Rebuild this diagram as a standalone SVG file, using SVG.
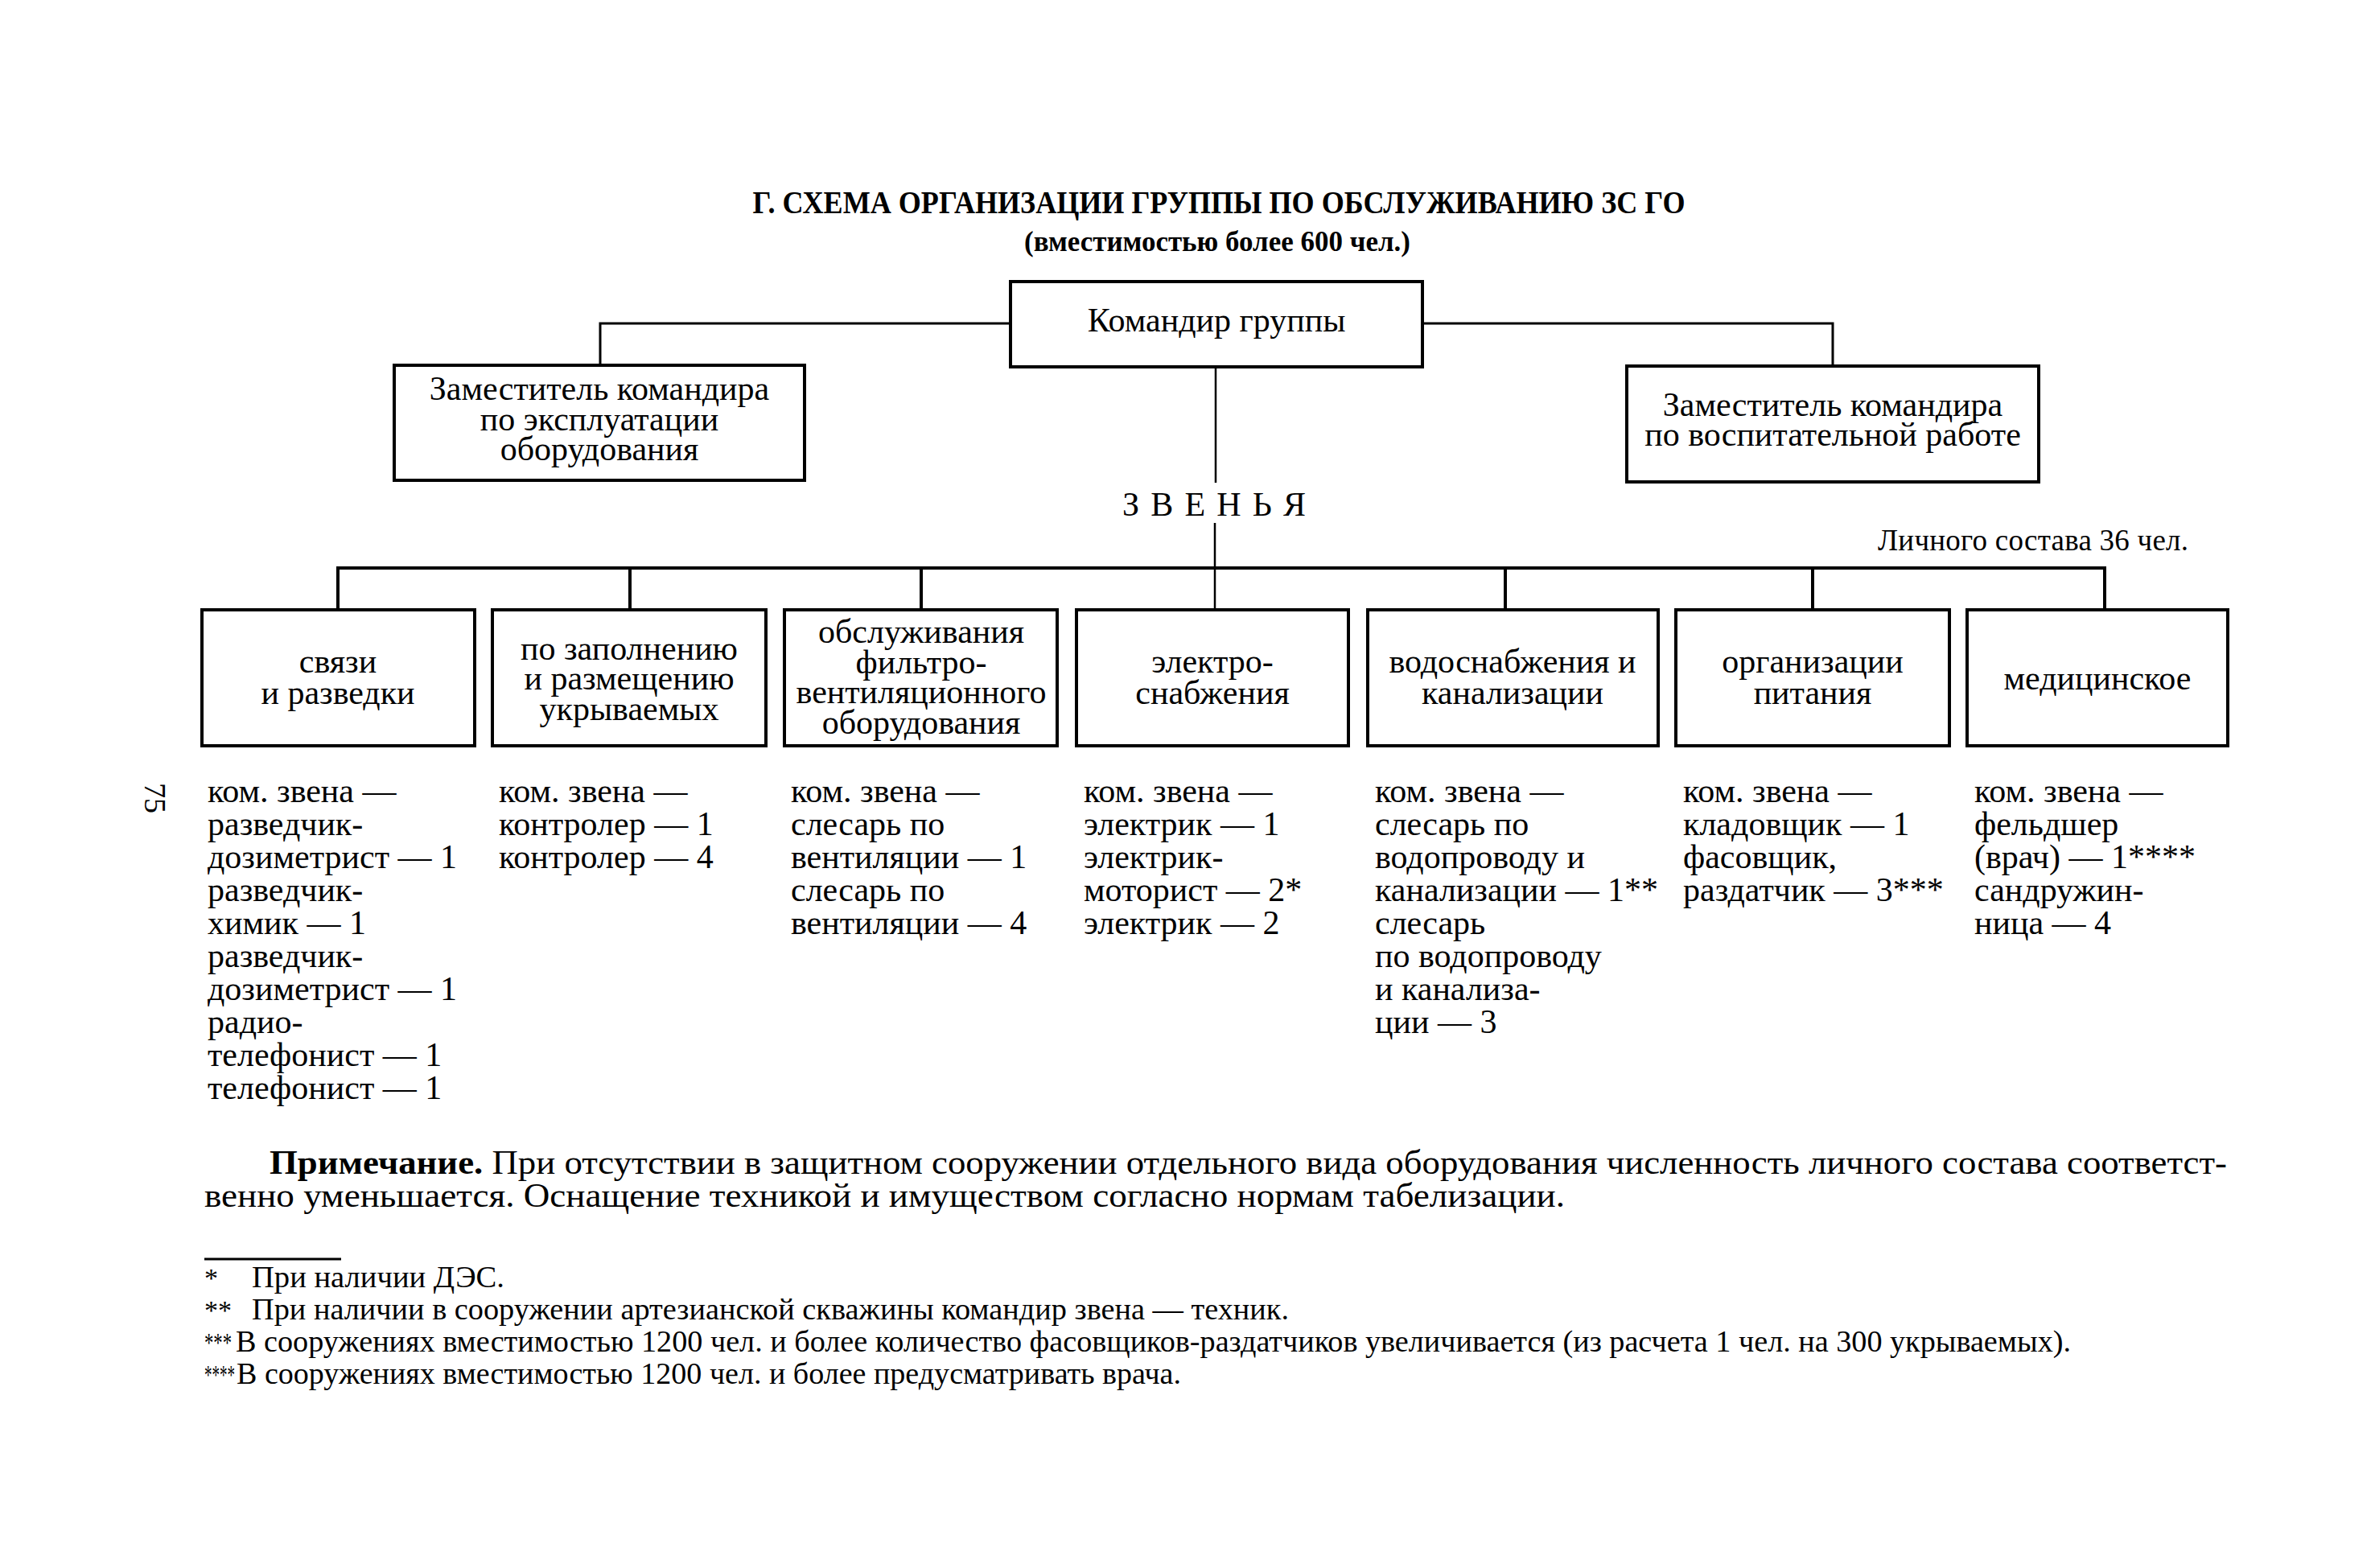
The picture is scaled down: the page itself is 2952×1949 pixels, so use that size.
<svg xmlns="http://www.w3.org/2000/svg" width="2952" height="1949" viewBox="0 0 2952 1949">
<style>
text{font-family:"Liberation Serif","Times New Roman",serif;fill:#000}
.t{font-weight:bold;font-size:40px;text-anchor:middle}
.b{font-size:42px;text-anchor:middle}
.l{font-size:42px}
.n{font-size:42px}
.f{font-size:37px}
.a{font-size:34px}
.box{fill:#fff;stroke:#000;stroke-width:4}
.c{fill:none;stroke:#000;stroke-width:3}
</style>
<rect width="2952" height="1949" fill="#fff"/>
<text class="t" x="1515" y="265" textLength="1159" lengthAdjust="spacingAndGlyphs">Г. СХЕМА ОРГАНИЗАЦИИ ГРУППЫ ПО ОБСЛУЖИВАНИЮ ЗС ГО</text>
<text class="t" x="1513" y="312" style="font-size:36px" textLength="480" lengthAdjust="spacingAndGlyphs">(вместимостью более 600 чел.)</text>
<g id="connectors">
<path class="c" d="M1256 402H746V454M1768 402H2278V455"/>
<path class="c" d="M1511 456V600M1510 650V758" style="stroke-width:2.5"/>
<path class="c" d="M420 758V706H2616V758M783 706V758M1145 706V758M1871 706V758M2253 706V758" style="stroke-width:4"/>
</g>
<g id="commander"><rect class="box" x="1256" y="350" width="512" height="106"/><text class="b" x="1512" y="412">Командир группы</text></g>
<g id="deputy1"><rect class="box" x="490" y="454" width="510" height="143"/><text class="b" x="745" y="497">Заместитель командира</text><text class="b" x="745" y="535">по эксплуатации</text><text class="b" x="745" y="572">оборудования</text></g>
<g id="deputy2"><rect class="box" x="2022" y="455" width="512" height="144"/><text class="b" x="2278" y="517">Заместитель командира</text><text class="b" x="2278" y="554">по воспитательной работе</text></g>
<g id="zvenya"><text class="b" x="1509" y="641" textLength="228">З В Е Н Ь Я</text></g>
<g id="total"><text class="l" x="2334" y="684" style="font-size:37px" textLength="386">Личного состава 36 чел.</text></g>
<g id="u1"><rect class="box" x="251" y="758" width="339" height="169"/><text class="b" x="420" y="836">связи</text><text class="b" x="420" y="875">и разведки</text></g>
<g id="u2"><rect class="box" x="612" y="758" width="340" height="169"/><text class="b" x="782" y="820">по заполнению</text><text class="b" x="782" y="857">и размещению</text><text class="b" x="782" y="895">укрываемых</text></g>
<g id="u3"><rect class="box" x="975" y="758" width="339" height="169"/><text class="b" x="1145" y="799">обслуживания</text><text class="b" x="1145" y="837">фильтро-</text><text class="b" x="1145" y="874">вентиляционного</text><text class="b" x="1145" y="912">оборудования</text></g>
<g id="u4"><rect class="box" x="1338" y="758" width="338" height="169"/><text class="b" x="1507" y="836">электро-</text><text class="b" x="1507" y="875">снабжения</text></g>
<g id="u5"><rect class="box" x="1700" y="758" width="361" height="169"/><text class="b" x="1880" y="836">водоснабжения и</text><text class="b" x="1880" y="875">канализации</text></g>
<g id="u6"><rect class="box" x="2083" y="758" width="340" height="169"/><text class="b" x="2253" y="836">организации</text><text class="b" x="2253" y="875">питания</text></g>
<g id="u7"><rect class="box" x="2445" y="758" width="324" height="169"/><text class="b" x="2607" y="857">медицинское</text></g>
<text class="l" transform="translate(180,973) rotate(90)" style="font-size:38px">75</text>
<g id="list1" class="l">
<text x="258" y="997">ком. звена —</text><text x="258" y="1038">разведчик-</text><text x="258" y="1079">дозиметрист — 1</text><text x="258" y="1120">разведчик-</text><text x="258" y="1161">химик — 1</text><text x="258" y="1202">разведчик-</text><text x="258" y="1243">дозиметрист — 1</text><text x="258" y="1284">радио-</text><text x="258" y="1325">телефонист — 1</text><text x="258" y="1366">телефонист — 1</text>
</g>
<g id="list2" class="l"><text x="620" y="997">ком. звена —</text><text x="620" y="1038">контролер — 1</text><text x="620" y="1079">контролер — 4</text></g>
<g id="list3" class="l"><text x="983" y="997">ком. звена —</text><text x="983" y="1038">слесарь по</text><text x="983" y="1079">вентиляции — 1</text><text x="983" y="1120">слесарь по</text><text x="983" y="1161">вентиляции — 4</text></g>
<g id="list4" class="l"><text x="1347" y="997">ком. звена —</text><text x="1347" y="1038">электрик — 1</text><text x="1347" y="1079">электрик-</text><text x="1347" y="1120">моторист — 2*</text><text x="1347" y="1161">электрик — 2</text></g>
<g id="list5" class="l"><text x="1709" y="997">ком. звена —</text><text x="1709" y="1038">слесарь по</text><text x="1709" y="1079">водопроводу и</text><text x="1709" y="1120">канализации — 1**</text><text x="1709" y="1161">слесарь</text><text x="1709" y="1202">по водопроводу</text><text x="1709" y="1243">и канализа-</text><text x="1709" y="1284">ции — 3</text></g>
<g id="list6" class="l"><text x="2092" y="997">ком. звена —</text><text x="2092" y="1038">кладовщик — 1</text><text x="2092" y="1079">фасовщик,</text><text x="2092" y="1120">раздатчик — 3***</text></g>
<g id="list7" class="l"><text x="2454" y="997">ком. звена —</text><text x="2454" y="1038">фельдшер</text><text x="2454" y="1079">(врач) — 1****</text><text x="2454" y="1120">сандружин-</text><text x="2454" y="1161">ница — 4</text></g>
<g id="note">
<text class="n" x="335" y="1459" textLength="2433" lengthAdjust="spacingAndGlyphs"><tspan font-weight="bold">Примечание.</tspan> При отсутствии в защитном сооружении отдельного вида оборудования численность личного состава соответст-</text>
<text class="n" x="254" y="1500" textLength="1691" lengthAdjust="spacingAndGlyphs">венно уменьшается. Оснащение техникой и имуществом согласно нормам табелизации.</text>
</g>
<path d="M254 1565H424" stroke="#000" stroke-width="3"/>
<g id="footnotes" class="f">
<text class="a" x="254" y="1600">*</text><text x="313" y="1600" textLength="314" lengthAdjust="spacingAndGlyphs">При наличии ДЭС.</text>
<text class="a" x="254" y="1640">**</text><text x="313" y="1640" textLength="1289" lengthAdjust="spacingAndGlyphs">При наличии в сооружении артезианской скважины командир звена — техник.</text>
<text class="a" x="254" y="1680" textLength="34" lengthAdjust="spacingAndGlyphs">***</text><text x="293" y="1680" textLength="2281" lengthAdjust="spacingAndGlyphs">В сооружениях вместимостью 1200 чел. и более количество фасовщиков-раздатчиков увеличивается (из расчета 1 чел. на 300 укрываемых).</text>
<text class="a" x="254" y="1720" textLength="38" lengthAdjust="spacingAndGlyphs">****</text><text x="294" y="1720" textLength="1174" lengthAdjust="spacingAndGlyphs">В сооружениях вместимостью 1200 чел. и более предусматривать врача.</text>
</g>
</svg>
